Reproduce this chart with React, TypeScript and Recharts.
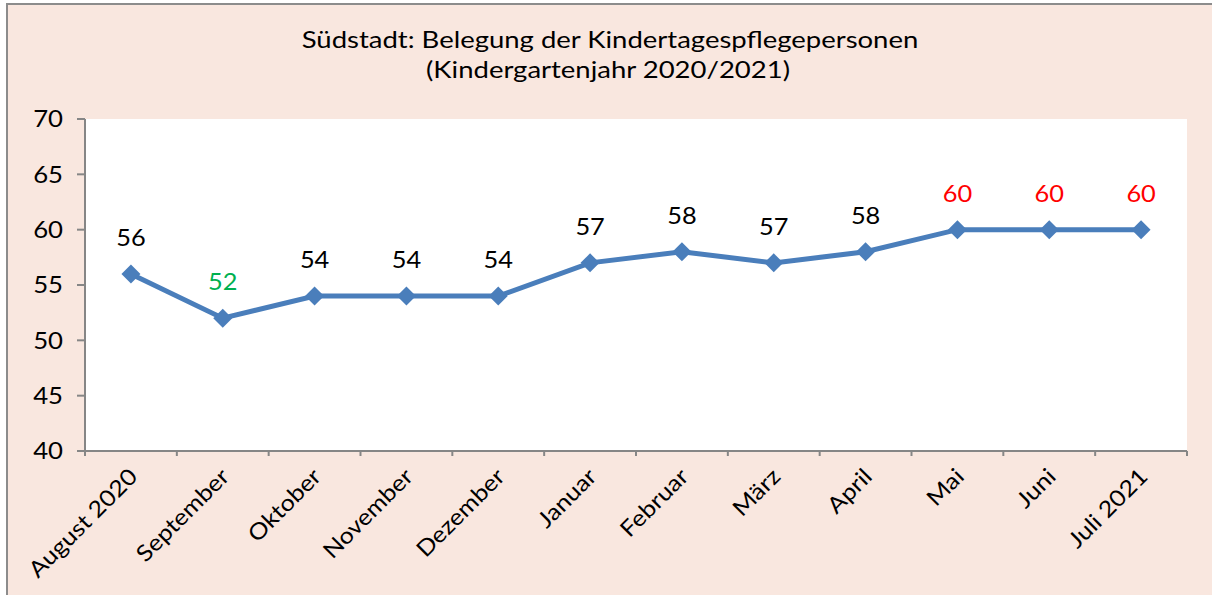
import React from "react";
import { LineChart, Line, XAxis, YAxis, CartesianGrid, LabelList } from "recharts";

const months = [
  "August 2020",
  "September",
  "Oktober",
  "November",
  "Dezember",
  "Januar",
  "Februar",
  "März",
  "April",
  "Mai",
  "Juni",
  "Juli 2021",
];
const values = [56, 52, 54, 54, 54, 57, 58, 57, 58, 60, 60, 60];
const labelColors = ["#000", "#00B050", "#000", "#000", "#000", "#000", "#000", "#000", "#000", "#FF0000", "#FF0000", "#FF0000"];
const yTicks = [40, 45, 50, 55, 60, 65, 70];
const titleLines = ["Südstadt: Belegung der Kindertagespflegepersonen", "(Kindergartenjahr 2020/2021)"];

const data = months.map((m, i) => ({ month: m, pos: i + 0.5, value: values[i] }));

const FONT = "Lato, 'Open Sans', sans-serif";
const LINE = "#4A7EBB";
const AXIS = "#868686";

const Diamond = (props: any) => {
  const { cx, cy } = props;
  if (cx == null || cy == null) return null;
  const r = 9.5;
  return <polygon points={`${cx},${cy - r} ${cx + r},${cy} ${cx},${cy + r} ${cx - r},${cy}`} fill={LINE} stroke="none" />;
};

const MonthTick = (props: any) => {
  const { x, y, payload, index } = props;
  const half = payload && typeof payload.offset === "number" && payload.offset > 0 ? payload.offset : 45.9;
  const isLast = index === months.length - 1;
  return (
    <g>
      <line x1={x - half} y1={y} x2={x - half} y2={y + 5} stroke={AXIS} strokeWidth={2} />
      {isLast && <line x1={x + half} y1={y} x2={x + half} y2={y + 5} stroke={AXIS} strokeWidth={2} />}
      <g transform={`translate(${x + 8}, ${y + 27}) rotate(-45) scale(1.12, 1)`}>
        <text x={0} y={0} textAnchor="end" fontFamily={FONT} fontSize={22.5} fill="#000">
          {payload.value}
        </text>
      </g>
    </g>
  );
};

const ValueTick = (props: any) => {
  const { x, y, payload } = props;
  return (
    <g transform={`translate(${x}, ${y}) scale(1.12, 1)`}>
      <text x={0} y={0} dy="0.36em" textAnchor="end" fontFamily={FONT} fontSize={23} fill="#000">
        {payload.value}
      </text>
    </g>
  );
};

const ValueLabel = (props: any) => {
  const { x, y, value, index } = props;
  return (
    <g transform={`translate(${x}, ${y - 28}) scale(1.08, 1)`}>
      <text x={0} y={0} textAnchor="middle" fontFamily={FONT} fontSize={23.5} fill={labelColors[index]}>
        {value}
      </text>
    </g>
  );
};

export default function App() {
  return (
    <div style={{ position: "absolute", left: 0, top: 0, width: 1212, height: 595, background: "#fff", overflow: "hidden" }}>
      <div
        style={{
          position: "absolute",
          left: 6,
          top: 3,
          width: 1300,
          height: 700,
          background: "#F9E7DF",
          borderLeft: "2px solid #8c8c8c",
          borderTop: "2px solid #8c8c8c",
        }}
      />
      <div style={{ position: "absolute", left: 0, top: 0 }}>
        <LineChart width={1212} height={595} data={data} margin={{ top: 119, right: 25, bottom: 0, left: 0 }}>
          <CartesianGrid fill="#fff" horizontal={false} vertical={false} xAxisId="grid" />
          <XAxis xAxisId="grid" type="number" dataKey="pos" domain={[0, 12]} hide height={0} allowDataOverflow />
          <XAxis
            xAxisId="labels"
            dataKey="month"
            type="category"
            scale="band"
            axisLine={{ stroke: AXIS, strokeWidth: 2 }}
            tickLine={false}
            tickSize={0}
            tickMargin={0}
            tick={<MonthTick />}
            interval={0}
            height={144}
          />
          <YAxis
            domain={[40, 70]}
            ticks={yTicks}
            width={85}
            tickSize={8}
            tickMargin={14}
            interval={0}
            axisLine={{ stroke: AXIS, strokeWidth: 2 }}
            tickLine={{ stroke: AXIS, strokeWidth: 2 }}
            tick={<ValueTick />}
          />
          <Line
            xAxisId="grid"
            type="linear"
            dataKey="value"
            stroke={LINE}
            strokeWidth={5}
            dot={<Diamond />}
            activeDot={false}
            isAnimationActive={false}
          >
            <LabelList dataKey="value" content={<ValueLabel />} />
          </Line>
        </LineChart>
      </div>
      <svg width={1212} height={595} style={{ position: "absolute", left: 0, top: 0, pointerEvents: "none" }}>
        <g transform="translate(610, 48) scale(1.17, 1)">
          <text x={0} y={0} textAnchor="middle" fontFamily={FONT} fontSize={23.5} fill="#000">
            {titleLines[0]}
          </text>
        </g>
        <g transform="translate(608, 78) scale(1.17, 1)">
          <text x={0} y={0} textAnchor="middle" fontFamily={FONT} fontSize={23.5} fill="#000">
            {titleLines[1]}
          </text>
        </g>
      </svg>
    </div>
  );
}
